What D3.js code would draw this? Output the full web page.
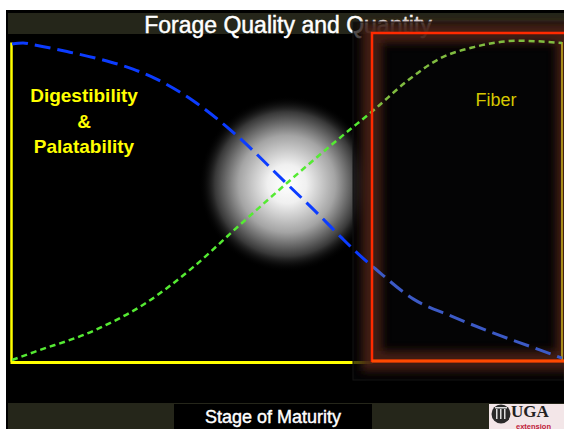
<!DOCTYPE html>
<html><head><meta charset="utf-8">
<script src="https://cdn.jsdelivr.net/npm/d3@7"></script>
<style>body{margin:0;background:#fff}svg{display:block}</style>
</head><body>
<svg id="chart" width="564" height="429"></svg>
<script>
//Chart data - stage of maturity 0 (early) .. 100 (late), value 0..100
var blueStage = [0,2,4,10,16,22,26,33,40,50,56,60,63,66,73,80,87,94,100];
var digestibility = [99.4,99.7,99.1,97.0,94.6,91.5,88.6,81.5,72.0,55.5,45.5,38.5,33.5,29.0,19.4,14.0,9.1,4.7,0.9];
var greenStage = [0,4,15,24,33,41,50,60,66,72,78,84,92,100];
var fiber = [0.3,2.8,9.6,17.8,29.5,42,55.8,70.5,79,88,95,98.4,100.4,99.7];

//Text
var title = "Forage Quality and Quantity";
var xTitle = "Stage of Maturity";
var leftLabel = ["Digestibility","&","Palatability"];
var rightLabel = "Fiber";

//Dimensions
var width = 564, height = 429;
var plot = {left: 12, right: 562, top: 42, bottom: 361};
var box = {x: 372, y: 33, x2: 566, y2: 361};
var fontSans = "Liberation Sans, Arial, sans-serif";

var svg = d3.select("#chart");
var defs = svg.append("defs");

var x = d3.scaleLinear().domain([0,100]).range([plot.left, plot.right]);
var y = d3.scaleLinear().domain([0,100]).range([plot.bottom, plot.top]);

//backgrounds
svg.append("rect").attr("width",width).attr("height",height).attr("fill","#fff");
svg.append("rect").attr("x",6).attr("y",10).attr("width",width-6).attr("height",height-10).attr("fill","#000");
svg.append("rect").attr("x",8).attr("y",13).attr("width",width-8).attr("height",21).attr("fill","#25261a");
svg.append("rect").attr("x",8).attr("y",403).attr("width",width-8).attr("height",26).attr("fill","#25261a");
svg.append("rect").attr("x",174).attr("y",404).attr("width",198).attr("height",25).attr("fill","#000");

svg.append("text").attr("x",288).attr("y",33).attr("text-anchor","middle")
  .attr("font-family",fontSans).attr("font-size",23)
  .attr("fill","#fff").attr("stroke","#fff").attr("stroke-width",0.45).text(title);

//white glow at the crossing
var grad = defs.append("radialGradient").attr("id","glow");
grad.append("stop").attr("offset","0%").attr("stop-color","#fff");
grad.append("stop").attr("offset","22%").attr("stop-color","#f0f0f0");
grad.append("stop").attr("offset","55%").attr("stop-color","#a4a4a4");
grad.append("stop").attr("offset","82%").attr("stop-color","#383838");
grad.append("stop").attr("offset","100%").attr("stop-color","#000").attr("stop-opacity",0);
svg.append("circle").attr("cx",x(50)).attr("cy",184).attr("r",88).attr("fill","url(#glow)");

//axes (no ticks)
var yAxis = svg.append("g").attr("transform","translate(11,0)")
  .call(d3.axisLeft(y).tickValues([]).tickSizeOuter(0));
var xAxis = svg.append("g").attr("transform","translate(0,362)")
  .call(d3.axisBottom(d3.scaleLinear().range([10,372])).tickValues([]).tickSizeOuter(0));
yAxis.select(".domain").attr("stroke","#ffff00").attr("stroke-width",2.5);
xAxis.select(".domain").attr("stroke","#ffff00").attr("stroke-width",3);

//dark backdrop of the fiber box
svg.append("rect").attr("x",353).attr("y",22).attr("width",width-353).attr("height",358)
  .attr("fill","#050507").attr("fill-opacity",0.7).attr("stroke","#141414").attr("stroke-width",1);

var blur = defs.append("filter").attr("id","soft").attr("x","-20%").attr("y","-20%").attr("width","140%").attr("height","140%");
blur.append("feGaussianBlur").attr("stdDeviation",4.5);
svg.append("rect").attr("x",box.x).attr("y",box.y).attr("width",box.x2-box.x).attr("height",box.y2-box.y)
  .attr("fill","none").attr("stroke","#4e2416").attr("stroke-width",20).attr("opacity",0.85)
  .attr("filter","url(#soft)");

//right dim axis line
svg.append("line").attr("x1",562).attr("x2",562).attr("y1",y(100)).attr("y2",y(0))
  .attr("stroke","#a88c1c").attr("stroke-width",2);

//lines
defs.append("clipPath").attr("id","outBox").append("rect")
  .attr("x",0).attr("y",0).attr("width",box.x).attr("height",height);
defs.append("clipPath").attr("id","inBox").append("rect")
  .attr("x",box.x).attr("y",0).attr("width",width-box.x).attr("height",height);

var line = d3.line().x(function(d){return x(d[0]);}).y(function(d){return y(d[1]);})
  .curve(d3.curveMonotoneX);
var blueData = blueStage.map(function(s,i){return [s,digestibility[i]];});
var greenData = greenStage.map(function(s,i){return [s,fiber[i]];});

function drawLine(data, color, dash, w, clip){
  svg.append("path").datum(data).attr("d",line).attr("fill","none")
    .attr("stroke",color).attr("stroke-width",w).attr("stroke-dasharray",dash)
    .attr("clip-path","url(#"+clip+")");
}
drawLine(greenData,"#55ea33","6,4",2.5,"outBox");
drawLine(greenData,"#80bc40","6,4",2.5,"inBox");
drawLine(blueData,"#0c3cff","16,7",3,"outBox");
drawLine(blueData,"#3c5ac6","16,7",3,"inBox");

//red frame
svg.append("rect").attr("x",box.x).attr("y",box.y).attr("width",box.x2-box.x).attr("height",box.y2-box.y)
  .attr("fill","none").attr("stroke","#ff2a00").attr("stroke-width",2.5);
svg.append("line").attr("x1",box.x).attr("x2",width).attr("y1",box.y2).attr("y2",box.y2)
  .attr("stroke","#ff4a00").attr("stroke-width",3);

//labels
var lt = svg.append("text").attr("text-anchor","middle")
  .attr("font-family",fontSans).attr("font-size",19)
  .attr("font-weight","bold").attr("fill","#ffff00");
leftLabel.forEach(function(t,i){
  lt.append("tspan").attr("x",84).attr("y",102+i*25.5).text(t);
});
svg.append("text").attr("x",496).attr("y",106).attr("text-anchor","middle")
  .attr("font-family",fontSans).attr("font-size",18)
  .attr("fill","#d6c800").text(rightLabel);

svg.append("text").attr("x",273).attr("y",423).attr("text-anchor","middle")
  .attr("font-family",fontSans).attr("font-size",18)
  .attr("fill","#fff").attr("stroke","#fff").attr("stroke-width",0.4).text(xTitle);

//UGA extension logo
var logo = svg.append("g");
logo.append("rect").attr("x",489).attr("y",404).attr("width",75).attr("height",25).attr("fill","#f3e6e8");
logo.append("circle").attr("cx",501).attr("cy",414).attr("r",9.5).attr("fill","#2a2a2a");
[-4,0,4].forEach(function(dx){
  logo.append("rect").attr("x",500+dx).attr("y",409).attr("width",1.5).attr("height",10).attr("fill","#ddd");
});
logo.append("rect").attr("x",495).attr("y",407).attr("width",12).attr("height",1.5).attr("fill","#ddd");
logo.append("text").attr("x",511).attr("y",417).attr("font-family","Liberation Serif, Times New Roman, serif")
  .attr("font-size",17).attr("font-weight","bold").attr("fill","#222").text("UGA");
logo.append("text").attr("x",516).attr("y",428.5).attr("font-family",fontSans)
  .attr("font-size",7.5).attr("font-weight","bold").attr("fill","#c0203a").text("extension");
</script>
</body></html>
